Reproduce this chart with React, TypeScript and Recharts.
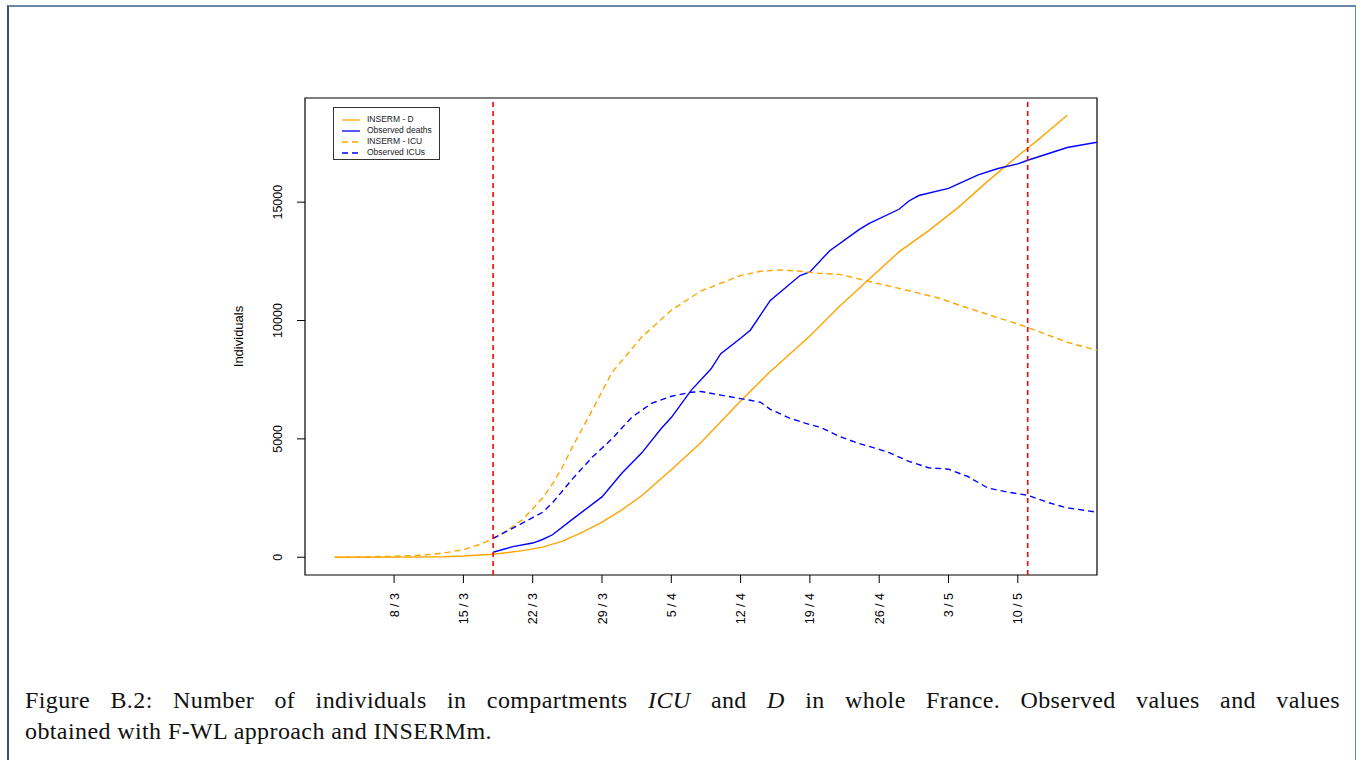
import React from 'react'
import { LineChart, Line, XAxis, YAxis, ReferenceLine, ReferenceArea, Legend } from 'recharts'

// days counted from 1 March (0 = 1/3)
const tickDays = [7, 14, 21, 28, 35, 42, 49, 56, 63, 70]
const tickLabels = ['8 / 3', '15 / 3', '22 / 3', '29 / 3', '5 / 4', '12 / 4', '19 / 4', '26 / 4', '3 / 5', '10 / 5']
const yTicks = [0, 5000, 10000, 15000]
const cutDays = [17, 71]

const insermDDays = [1, 8, 12, 14, 17, 20, 22, 24, 26, 28, 30, 32, 35, 38, 42, 45, 49, 52, 55, 58, 61, 64, 67, 70, 72, 75]
const insermD = [0, 5, 20, 50, 125, 280, 430, 680, 1050, 1480, 2000, 2600, 3700, 4850, 6600, 7850, 9350, 10600, 11750, 12900, 13800, 14780, 15900, 16950, 17620, 18670]

const obsDeathDays = [17, 19, 21, 22, 23, 25, 28, 30, 32, 34, 35, 37, 39, 40, 42, 43, 45, 48, 49, 51, 54, 55, 58, 59, 60, 63, 66, 68, 70, 71, 75, 78]
const obsDeaths = [210, 450, 600, 750, 950, 1600, 2550, 3550, 4400, 5450, 5900, 7050, 7950, 8600, 9250, 9600, 10850, 11900, 12050, 12950, 13850, 14100, 14700, 15050, 15280, 15580, 16150, 16420, 16620, 16770, 17310, 17530]

const insermIcuDays = [1, 4, 7, 10, 12, 14, 16, 17, 18, 20, 22, 23, 24, 25, 27, 29, 32, 35, 38, 42, 44, 46, 48, 50, 52, 55, 58, 62, 65, 68, 71, 75, 78]
const insermIcu = [0, 20, 40, 90, 180, 320, 590, 800, 1000, 1600, 2500, 3100, 3800, 4650, 6200, 7800, 9300, 10430, 11250, 11900, 12080, 12140, 12080, 11990, 11950, 11650, 11360, 10950, 10520, 10120, 9710, 9080, 8740]

const obsIcuDays = [17, 20, 22, 23, 25, 27, 29, 31, 33, 35, 37, 38, 40, 42, 43, 44, 45, 47, 49, 50, 52, 54, 56, 57, 59, 61, 63, 65, 67, 69, 71, 73, 75, 76, 78]
const obsIcu = [800, 1450, 1900, 2300, 3300, 4220, 5000, 5910, 6500, 6800, 6970, 7000, 6850, 6700, 6630, 6550, 6250, 5870, 5600, 5500, 5100, 4800, 4560, 4420, 4050, 3780, 3720, 3400, 2920, 2750, 2620, 2320, 2080, 2030, 1900]

const seriesInfo = [
  { key: 'insermD', name: 'INSERM - D', color: '#FFA500', dash: undefined },
  { key: 'obsDeaths', name: 'Observed deaths', color: '#0000FF', dash: undefined },
  { key: 'insermIcu', name: 'INSERM - ICU', color: '#FFA500', dash: '6 4' },
  { key: 'obsIcu', name: 'Observed ICUs', color: '#0000FF', dash: '6 4' },
]

const sources: Record<string, [number[], number[]]> = {
  insermD: [insermDDays, insermD],
  obsDeaths: [obsDeathDays, obsDeaths],
  insermIcu: [insermIcuDays, insermIcu],
  obsIcu: [obsIcuDays, obsIcu],
}

const allDays = Array.from(new Set([...insermDDays, ...obsDeathDays, ...insermIcuDays, ...obsIcuDays])).sort((a, b) => a - b)
const table = allDays.map(t => {
  const row: Record<string, number | null> = { t }
  Object.keys(sources).forEach(k => {
    const [ds, vs] = sources[k]
    const i = ds.indexOf(t)
    row[k] = i >= 0 ? vs[i] : null
  })
  return row
})

const FONT = '"Liberation Sans", Arial, sans-serif'

const XTick = (props: any) => {
  const { x, y, payload } = props
  const i = tickDays.indexOf(payload.value)
  const bx = x + 4.5
  return (
    <text x={bx} y={y} transform={`rotate(-90, ${bx}, ${y})`} textAnchor="end" fontSize={12.5} fontFamily={FONT} fill="#000">
      {i >= 0 ? tickLabels[i] : ''}
    </text>
  )
}

const YTick = (props: any) => {
  const { x, y, payload } = props
  return (
    <text x={x} y={y} transform={`rotate(-90, ${x}, ${y})`} textAnchor="middle" fontSize={12.5} fontFamily={FONT} fill="#000">
      {payload.value}
    </text>
  )
}

const renderLegend = () => (
  <div style={{ border: '1.5px solid #333', width: 107, height: 53, padding: '6px 0 0 0', boxSizing: 'border-box', background: '#fff', fontFamily: FONT, fontSize: 8.5, color: '#222' }}>
    {seriesInfo.map(s => (
      <div key={s.key} style={{ display: 'flex', alignItems: 'center', height: 11 }}>
        <svg width={18} height={4} style={{ marginLeft: 8, marginRight: 7 }}>
          <line x1={0} y1={2} x2={18} y2={2} stroke={s.color} strokeWidth={1.3} strokeDasharray={s.dash ? '6 4' : undefined} />
        </svg>
        <span style={{ whiteSpace: 'nowrap', lineHeight: '11px' }}>{s.name}</span>
      </div>
    ))}
  </div>
)

export default function App() {
  return (
    <div style={{ position: 'absolute', left: 0, top: 0, width: 1363, height: 760, background: '#fff', overflow: 'hidden' }}>
      <div style={{ position: 'absolute', left: 7, top: 5, width: 1349, height: 800, borderLeft: '2px solid #2f527d', borderTop: '2px solid #6c86a6', borderRight: '1.5px solid #6c86a6', boxSizing: 'border-box' }} />
      <div style={{ position: 'absolute', left: 0, top: 0 }}>
        <LineChart width={1363} height={660} data={table} margin={{ top: 98, right: 266, bottom: 25, left: 245 }}>
          <XAxis dataKey="t" type="number" domain={[-2, 78]} ticks={tickDays} allowDataOverflow axisLine={false}
            tickLine={{ stroke: '#000' }} tickSize={8} tickMargin={10} tick={<XTick />} height={60} interval={0} />
          <YAxis type="number" domain={[-750, 19400]} ticks={yTicks} allowDataOverflow axisLine={false}
            tickLine={{ stroke: '#000' }} tickSize={8} tickMargin={15} tick={<YTick />} width={60} interval={0}
            label={{
              content: () => (
                <text x={243} y={336.5} transform="rotate(-90, 243, 336.5)" textAnchor="middle" fontSize={13} fontFamily={FONT} fill="#000">
                  Individuals
                </text>
              ),
            }} />
          {seriesInfo.map(s => (
            <Line key={s.key} dataKey={s.key} name={s.name} type="linear" stroke={s.color} strokeWidth={1.4}
              strokeDasharray={s.dash} dot={false} connectNulls isAnimationActive={false} />
          ))}
          {cutDays.map(d => (
            <ReferenceLine key={d} x={d} stroke="#FF0000" strokeWidth={1.6} strokeDasharray="5 4" />
          ))}
          <ReferenceArea x1={-2} x2={78} y1={-750} y2={19400} fill="none" stroke="#000" strokeWidth={1.2} fillOpacity={0} />
          <Legend layout="vertical" align="center" verticalAlign="middle" content={renderLegend}
            wrapperStyle={{ left: 333, top: 107, width: 107, height: 53 }} />
        </LineChart>
      </div>
      <div style={{ position: 'absolute', left: 25, top: 685, width: 1315, fontFamily: '"Liberation Serif", "Times New Roman", serif', fontSize: 24, letterSpacing: 0.4, lineHeight: '31px', color: '#111' }}>
        <div style={{ textAlign: 'justify', textAlignLast: 'justify' }}>
          Figure B.2: Number of individuals in compartments <i>ICU</i> and <i>D</i> in whole France. Observed values and values
        </div>
        <div>obtained with F-WL approach and INSERMm.</div>
      </div>
    </div>
  )
}
